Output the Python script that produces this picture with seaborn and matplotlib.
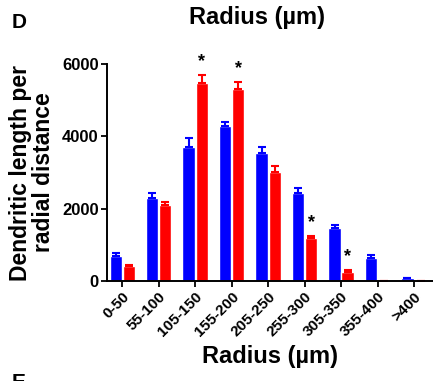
import pandas as pd
import numpy as np
import seaborn as sns
import matplotlib.pyplot as plt

radius_bins = ["0-50", "55-100", "105-150", "155-200", "205-250",
               "255-300", "305-350", "355-400", ">400"]
blue_mean = [700, 2300, 3700, 4300, 3530, 2450, 1480, 650, 80]
blue_sem = [80, 140, 250, 110, 190, 130, 70, 70, 20]
red_mean = [430, 2100, 5470, 5300, 3030, 1180, 250, 0, 0]
red_sem = [30, 80, 220, 200, 140, 70, 50, 0, 0]
significant = [False, False, True, True, False, True, True, False, False]

sns.set_style("white")
plt.rcParams['font.family'] = ['Liberation Sans', 'DejaVu Sans']
plt.rcParams['font.weight'] = 'bold'
plt.rcParams['text.color'] = 'black'
plt.rcParams['axes.labelcolor'] = 'black'
plt.rcParams['xtick.color'] = 'black'
plt.rcParams['ytick.color'] = 'black'

df = pd.DataFrame({
    "radius": radius_bins * 2,
    "group": ["blue"] * len(radius_bins) + ["red"] * len(radius_bins),
    "length": blue_mean + red_mean,
})

fig = plt.figure(figsize=(4.33, 3.81), dpi=100)
ax = fig.add_axes([0.247, 0.262, 0.753, 0.570])

sns.barplot(data=df, x="radius", y="length", hue="group", order=radius_bins,
            palette={"blue": "#0000ff", "red": "#ff0000"}, saturation=1,
            width=0.72, gap=0.06, errorbar=None, legend=False, ax=ax)

# upward-only SEM bars, placed on the bars seaborn drew
bars = [p for p in ax.patches if p.get_width() > 0]
n = len(radius_bins)
for bars_grp, means, sems, col in [(bars[:n], blue_mean, blue_sem, "#0000ff"),
                                    (bars[n:2 * n], red_mean, red_sem, "#ff0000")]:
    xs = [b.get_x() + b.get_width() / 2 for b in bars_grp]
    ax.errorbar(xs, means, yerr=[np.zeros(n), sems], fmt="none", ecolor=col,
                elinewidth=1.5, capsize=3, capthick=1.5)

# significance stars over the red bars
red_x = [b.get_x() + b.get_width() / 2 for b in bars[n:2 * n]]
for i, sig in enumerate(significant):
    if sig:
        ax.text(red_x[i], red_mean[i] + red_sem[i] + 380, "*", ha="center",
                va="center", fontsize=13, fontweight="bold", clip_on=False)

ax.set_ylim(0, 6000)
ax.set_xlim(-0.42, 8.52)
ax.set_yticks([0, 2000, 4000, 6000])
ax.tick_params(axis="both", which="major", direction="out", length=4, width=1.3,
               bottom=True, left=True, pad=2)
ax.tick_params(axis="y", labelsize=12)
ax.tick_params(axis="x", labelsize=11)
plt.setp(ax.get_xticklabels(), rotation=45, ha="right", rotation_mode="anchor",
         fontweight="bold")
plt.setp(ax.get_yticklabels(), fontweight="bold")
sns.despine(ax=ax)
for side in ["left", "bottom"]:
    ax.spines[side].set_linewidth(1.4)
    ax.spines[side].set_color("black")

ax.set_xlabel("Radius (µm)", fontsize=17, fontweight="bold", labelpad=4)
ax.set_ylabel("Dendritic length per\nradial distance", fontsize=16.5,
              fontweight="bold", labelpad=5, linespacing=1.0)

# panel letters and heading left over from the neighbouring panel
fig.text(0.028, 0.942, "D", fontsize=15, fontweight="bold", va="center")
fig.text(0.594, 0.953, "Radius (µm)", fontsize=17, fontweight="bold",
         ha="center", va="center")
fig.text(0.028, -0.005, "E", fontsize=15, fontweight="bold", va="center")

fig.savefig("out.png", dpi=100)
